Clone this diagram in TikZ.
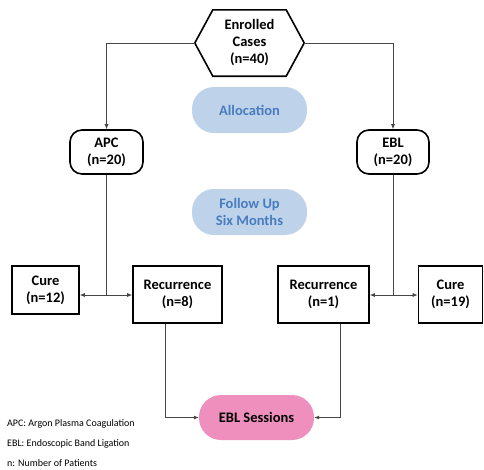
\documentclass[tikz,border=0pt]{standalone}
\usepackage{fontspec}
\setmainfont{Carlito}
\usetikzlibrary{arrows.meta}
\definecolor{pillblue}{RGB}{190,211,234}
\definecolor{pilltext}{RGB}{72,124,190}
\definecolor{pillpink}{RGB}{238,143,190}
\definecolor{linegray}{RGB}{70,70,70}
\tikzset{
  txt/.style={font=\fontsize{14.5}{17}\selectfont\bfseries, align=center, text=black},
  box/.style={txt, draw=black, line width=1.6pt, inner sep=0pt},
  rbox/.style={box, rounded corners=12pt},
  pill/.style={txt, rounded corners=22pt, inner sep=0pt, minimum width=115pt, minimum height=46pt},
  conn/.style={draw=linegray, line width=0.7pt},
  arr/.style={conn, -{Latex[length=5pt,width=4pt]}},
  legend/.style={font=\fontsize{10}{12}\selectfont, anchor=west, inner sep=0pt}
}
\begin{document}
\begin{tikzpicture}[x=1pt,y=-1pt]
\useasboundingbox (0,0) rectangle (484,469);
% hexagon
\node[txt, minimum width=109pt, minimum height=66pt, inner sep=0pt] (hex) at (249.5,43) {Enrolled\\Cases\\(n=40)};
\draw[line width=1.6pt, line join=miter] (hex.west) -- ([xshift=18pt]hex.north west) -- ([xshift=-18pt]hex.north east) -- (hex.east) -- ([xshift=-18pt]hex.south east) -- ([xshift=18pt]hex.south west) -- cycle;
% arms
\node[rbox, minimum width=73pt, minimum height=44pt] (apc) at (106.5,152) {APC\\(n=20)};
\node[rbox, minimum width=72pt, minimum height=44pt] (ebl) at (393,152) {EBL\\(n=20)};
\node[pill, fill=pillblue, text=pilltext] (alloc) at (249.5,110) {Allocation};
\node[pill, fill=pillblue, text=pilltext] (fu) at (249.5,212) {Follow Up\\Six Months};
% outcome boxes
\node[box, minimum width=67pt, minimum height=48pt] (cureL) at (45.5,290) {Cure\\(n=12)};
\node[box, minimum width=89pt, minimum height=57pt] (recL) at (177.5,294.5) {Recurrence\\(n=8)};
\node[box, minimum width=91pt, minimum height=57pt] (recR) at (323.5,294.5) {Recurrence\\(n=1)};
\node[box, minimum width=64pt, minimum height=57pt] (cureR) at (450.5,294.5) {Cure\\(n=19)};
\node[pill, fill=pillpink, minimum height=45pt] (ebls) at (256.5,417.5) {EBL Sessions};
% connectors
\draw[arr] (hex.west) -| (apc.north);
\draw[arr] (hex.east) -| (ebl.north);
\coordinate (jl) at (apc.south |- 0,295);
\coordinate (jr) at (ebl.south |- 0,295);
\draw[conn] (apc.south) -- (jl);
\draw[arr] (jl) -- (cureL.east |- jl);
\draw[arr] (jl) -- (recL.west |- jl);
\draw[conn] (ebl.south) -- (jr);
\draw[arr] (jr) -- (recR.east |- jr);
\draw[arr] (jr) -- (cureR.west |- jr);
\draw[arr] ([xshift=-12pt]recL.south) |- (ebls.west);
\draw[arr] ([xshift=16.5pt]recR.south) |- (ebls.east);
% legend
\node[legend] (l1) at (7,424) {APC: Argon Plasma Coagulation};
\node[legend] (l2) at (7,444) {EBL: Endoscopic Band Ligation};
\node[legend] (l3) at (7,463) {n: Number of Patients};
\end{tikzpicture}
\end{document}
